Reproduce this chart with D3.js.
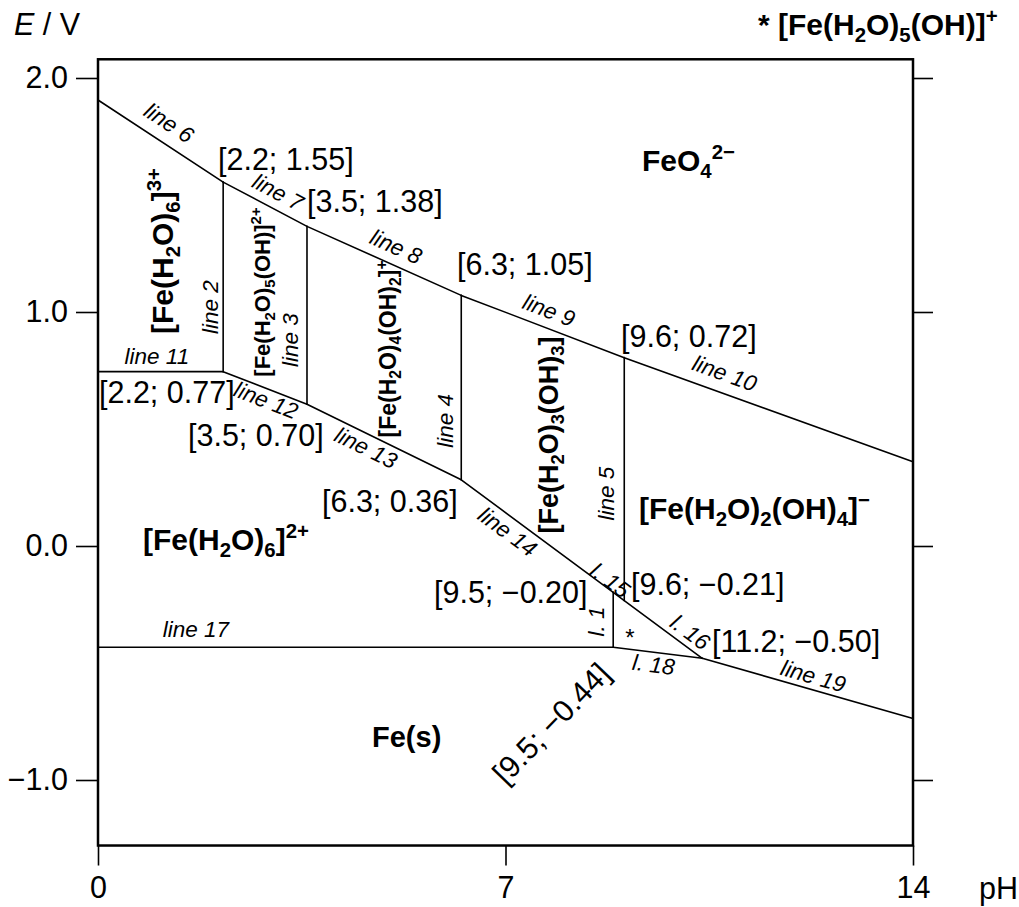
<!DOCTYPE html>
<html>
<head>
<meta charset="utf-8">
<script src="https://cdn.jsdelivr.net/npm/d3@7"></script>
<style>
  body { margin: 0; background: #fff; }
  svg { font-family: "Liberation Sans", Arial, sans-serif; }
</style>
</head>
<body>
<svg id="chart" width="1019" height="907"></svg>
<script>
// boundary lines of the Pourbaix diagram: name, pH1, E1, pH2, E2
const boundaries = [
  ["line 6", 0, 1.906, 2.15, 1.555],
  ["line 7", 2.15, 1.555, 3.59, 1.366],
  ["line 8", 3.59, 1.366, 6.24, 1.071],
  ["line 9", 6.24, 1.071, 9.04, 0.805],
  ["line 10", 9.04, 0.805, 14, 0.36],
  ["line 11", 0, 0.745, 2.15, 0.745],
  ["line 2", 2.15, 0.745, 2.15, 1.555],
  ["line 3", 3.59, 0.606, 3.59, 1.366],
  ["line 4", 6.24, 0.283, 6.24, 1.071],
  ["line 5", 9.04, -0.233, 9.04, 0.805],
  ["line 12", 2.15, 0.745, 3.59, 0.606],
  ["line 13", 3.59, 0.606, 6.24, 0.283],
  ["line 14", 6.24, 0.283, 8.85, -0.198],
  ["l. 15", 8.85, -0.198, 9.04, -0.233],
  ["l. 16", 9.04, -0.233, 10.38, -0.48],
  ["l. 1", 8.85, -0.433, 8.85, -0.198],
  ["line 17", 0, -0.433, 8.85, -0.433],
  ["l. 18", 8.85, -0.433, 10.38, -0.48],
  ["line 19", 10.38, -0.48, 14, -0.737]
];

// intersection labels as printed
const pointLabels = [
  "[2.2; 1.55]", "[3.5; 1.38]", "[6.3; 1.05]", "[9.6; 0.72]",
  "[2.2; 0.77]", "[3.5; 0.70]", "[6.3; 0.36]", "[9.5; \u22120.20]",
  "[9.6; \u22120.21]", "[11.2; \u22120.50]", "[9.5; \u22120.44]"
];

// species (markup: _x subscript, ^{..} superscript)
const species = [
  "[Fe(H_2O)_6]^{3+}", "[Fe(H_2O)_5(OH)]^{2+}", "[Fe(H_2O)_4(OH)_2]^{+}",
  "[Fe(H_2O)_3(OH)_3]", "[Fe(H_2O)_2(OH)_4]^{\u2212}", "FeO_4^{2\u2212}",
  "[Fe(H_2O)_6]^{2+}", "Fe(s)"
];

const xTicks = [0, 7, 14];
const yTicks = [-1, 0, 1, 2];

// ---- layout ----
const x = d3.scaleLinear([0, 14], [98, 913]);
const y = d3.scaleLinear([-1, 2], [780, 78]);
const eTop = 2.08, eBottom = -1.28;

// where each line label sits: fraction along segment, offset across it
const lineLabelPos = {
  "line 6": [0.48, -12], "line 7": [0.56, -9], "line 8": [0.53, -10],
  "line 9": [0.5, -9.5], "line 10": [0.325, -11.5], "line 11": [0.47, -7.5],
  "line 2": [0.34, -5.5], "line 3": [0.36, -8.5], "line 4": [0.32, -8.5],
  "line 5": [0.44, -10.5], "line 12": [0.56, 19], "line 13": [0.42, 21],
  "line 14": [0.36, 22], "l. 15": [-0.7, 0], "l. 16": [0.74, -6],
  "l. 1": [0.47, -9.5], "line 17": [0.19, -10.5], "l. 18": [0.47, 20],
  "line 19": [0.51, -5.5]
};

// pixel anchors of the point labels (left / baseline), last one rotated
const pointPos = [
  [218, 170], [307, 212], [457, 275], [621, 347], [99, 403], [188, 446],
  [322, 512], [434, 603], [631, 595], [712, 652], [551, 723]
];

// species anchors: [x, y, size, rotation, anchor]
const speciesPos = [
  [173, 251, 30, -90, "middle"], [270, 292, 22, -90, "middle"],
  [396, 349, 23, -90, "middle"], [558, 435, 27, -90, "middle"],
  [639, 519, 30, 0, "start"], [642, 171, 30, 0, "start"],
  [143, 550, 30, 0, "start"], [372, 747, 29, 0, "start"]
];

const svg = d3.select("#chart");

function formula(sel, str, size) {
  const tokens = str.match(/_\{[^}]*\}|_.|\^\{[^}]*\}|\^.|[^_^]+/g);
  let shift = 0;
  tokens.forEach(t => {
    let txt = t, s = 0, fs = size;
    if (t[0] === "_") { txt = t.slice(1).replace(/[{}]/g, ""); s = size * 0.22; fs = size * 0.68; }
    else if (t[0] === "^") { txt = t.slice(1).replace(/[{}]/g, ""); s = -size * 0.4; fs = size * 0.68; }
    sel.append("tspan").attr("dy", s - shift).attr("font-size", fs).text(txt);
    shift = s;
  });
}

// frame
svg.append("rect")
  .attr("x", x(0)).attr("y", y(eTop))
  .attr("width", x(14) - x(0)).attr("height", y(eBottom) - y(eTop))
  .attr("fill", "none").attr("stroke", "#000").attr("stroke-width", 2.5);

// axes
const axL = svg.append("g").attr("transform", `translate(${x(0)},0)`)
  .call(d3.axisLeft(y).tickValues(yTicks).tickSize(22).tickPadding(8).tickFormat(d3.format(".1f")));
const axR = svg.append("g").attr("transform", `translate(${x(14)},0)`)
  .call(d3.axisRight(y).tickValues(yTicks).tickSize(20).tickFormat(""));
const axB = svg.append("g").attr("transform", `translate(0,${y(eBottom)})`)
  .call(d3.axisBottom(x).tickValues(xTicks).tickSize(20).tickPadding(11).tickFormat(d3.format("d")));
[axL, axR, axB].forEach(g => {
  g.select(".domain").remove();
  g.selectAll("line").attr("stroke-width", 1.6);
  g.selectAll("text").attr("font-size", 30.5).attr("font-family", "Liberation Sans, Arial").attr("fill", "#000");
});

const eLab = svg.append("text").attr("x", 14).attr("y", 35).attr("font-size", 30.5);
eLab.append("tspan").attr("font-style", "italic").text("E");
eLab.append("tspan").text(" / V");
svg.append("text").attr("x", 979).attr("y", 899).attr("font-size", 30.5).text("pH");

// boundaries
svg.append("g").selectAll("line").data(boundaries).join("line")
  .attr("x1", d => x(d[1])).attr("y1", d => y(d[2]))
  .attr("x2", d => x(d[3])).attr("y2", d => y(d[4]))
  .attr("stroke", "#000").attr("stroke-width", 1.6).attr("stroke-linecap", "round");

// line labels along the lines
svg.append("g").selectAll("text").data(boundaries).join("text")
  .attr("transform", d => {
    const [t] = lineLabelPos[d[0]];
    const x1 = x(d[1]), y1 = y(d[2]), x2 = x(d[3]), y2 = y(d[4]);
    const a = Math.atan2(y2 - y1, x2 - x1) * 180 / Math.PI;
    return `translate(${x1 + t * (x2 - x1)},${y1 + t * (y2 - y1)}) rotate(${a})`;
  })
  .attr("dy", d => lineLabelPos[d[0]][1])
  .attr("text-anchor", "middle").attr("font-size", 22.5).attr("font-style", "italic")
  .text(d => d[0]);

// intersection labels
svg.append("g").selectAll("text").data(pointLabels).join("text")
  .attr("transform", (d, i) => i === 10
    ? `translate(${pointPos[i][0]},${pointPos[i][1]}) rotate(-46)`
    : `translate(${pointPos[i][0]},${pointPos[i][1]})`)
  .attr("text-anchor", (d, i) => i === 10 ? "middle" : "start")
  .attr("dy", (d, i) => i === 10 ? "0.36em" : 0)
  .attr("font-size", 30.5)
  .text(d => d);

// species names
species.forEach((s, i) => {
  const [px, py, fs, rot, anchor] = speciesPos[i];
  const t = svg.append("text")
    .attr("transform", `translate(${px},${py}) rotate(${rot})`)
    .attr("text-anchor", anchor).attr("font-weight", "bold").attr("font-size", fs);
  formula(t, s, fs);
});

// marker for the small region and its key
svg.append("text").attr("x", 630).attr("y", 646).attr("text-anchor", "middle")
  .attr("font-size", 24).text("*");
const key = svg.append("text").attr("x", 758).attr("y", 35)
  .attr("font-weight", "bold").attr("font-size", 30);
formula(key, "* [Fe(H_2O)_5(OH)]^{+}", 30);
</script>
</body>
</html>
